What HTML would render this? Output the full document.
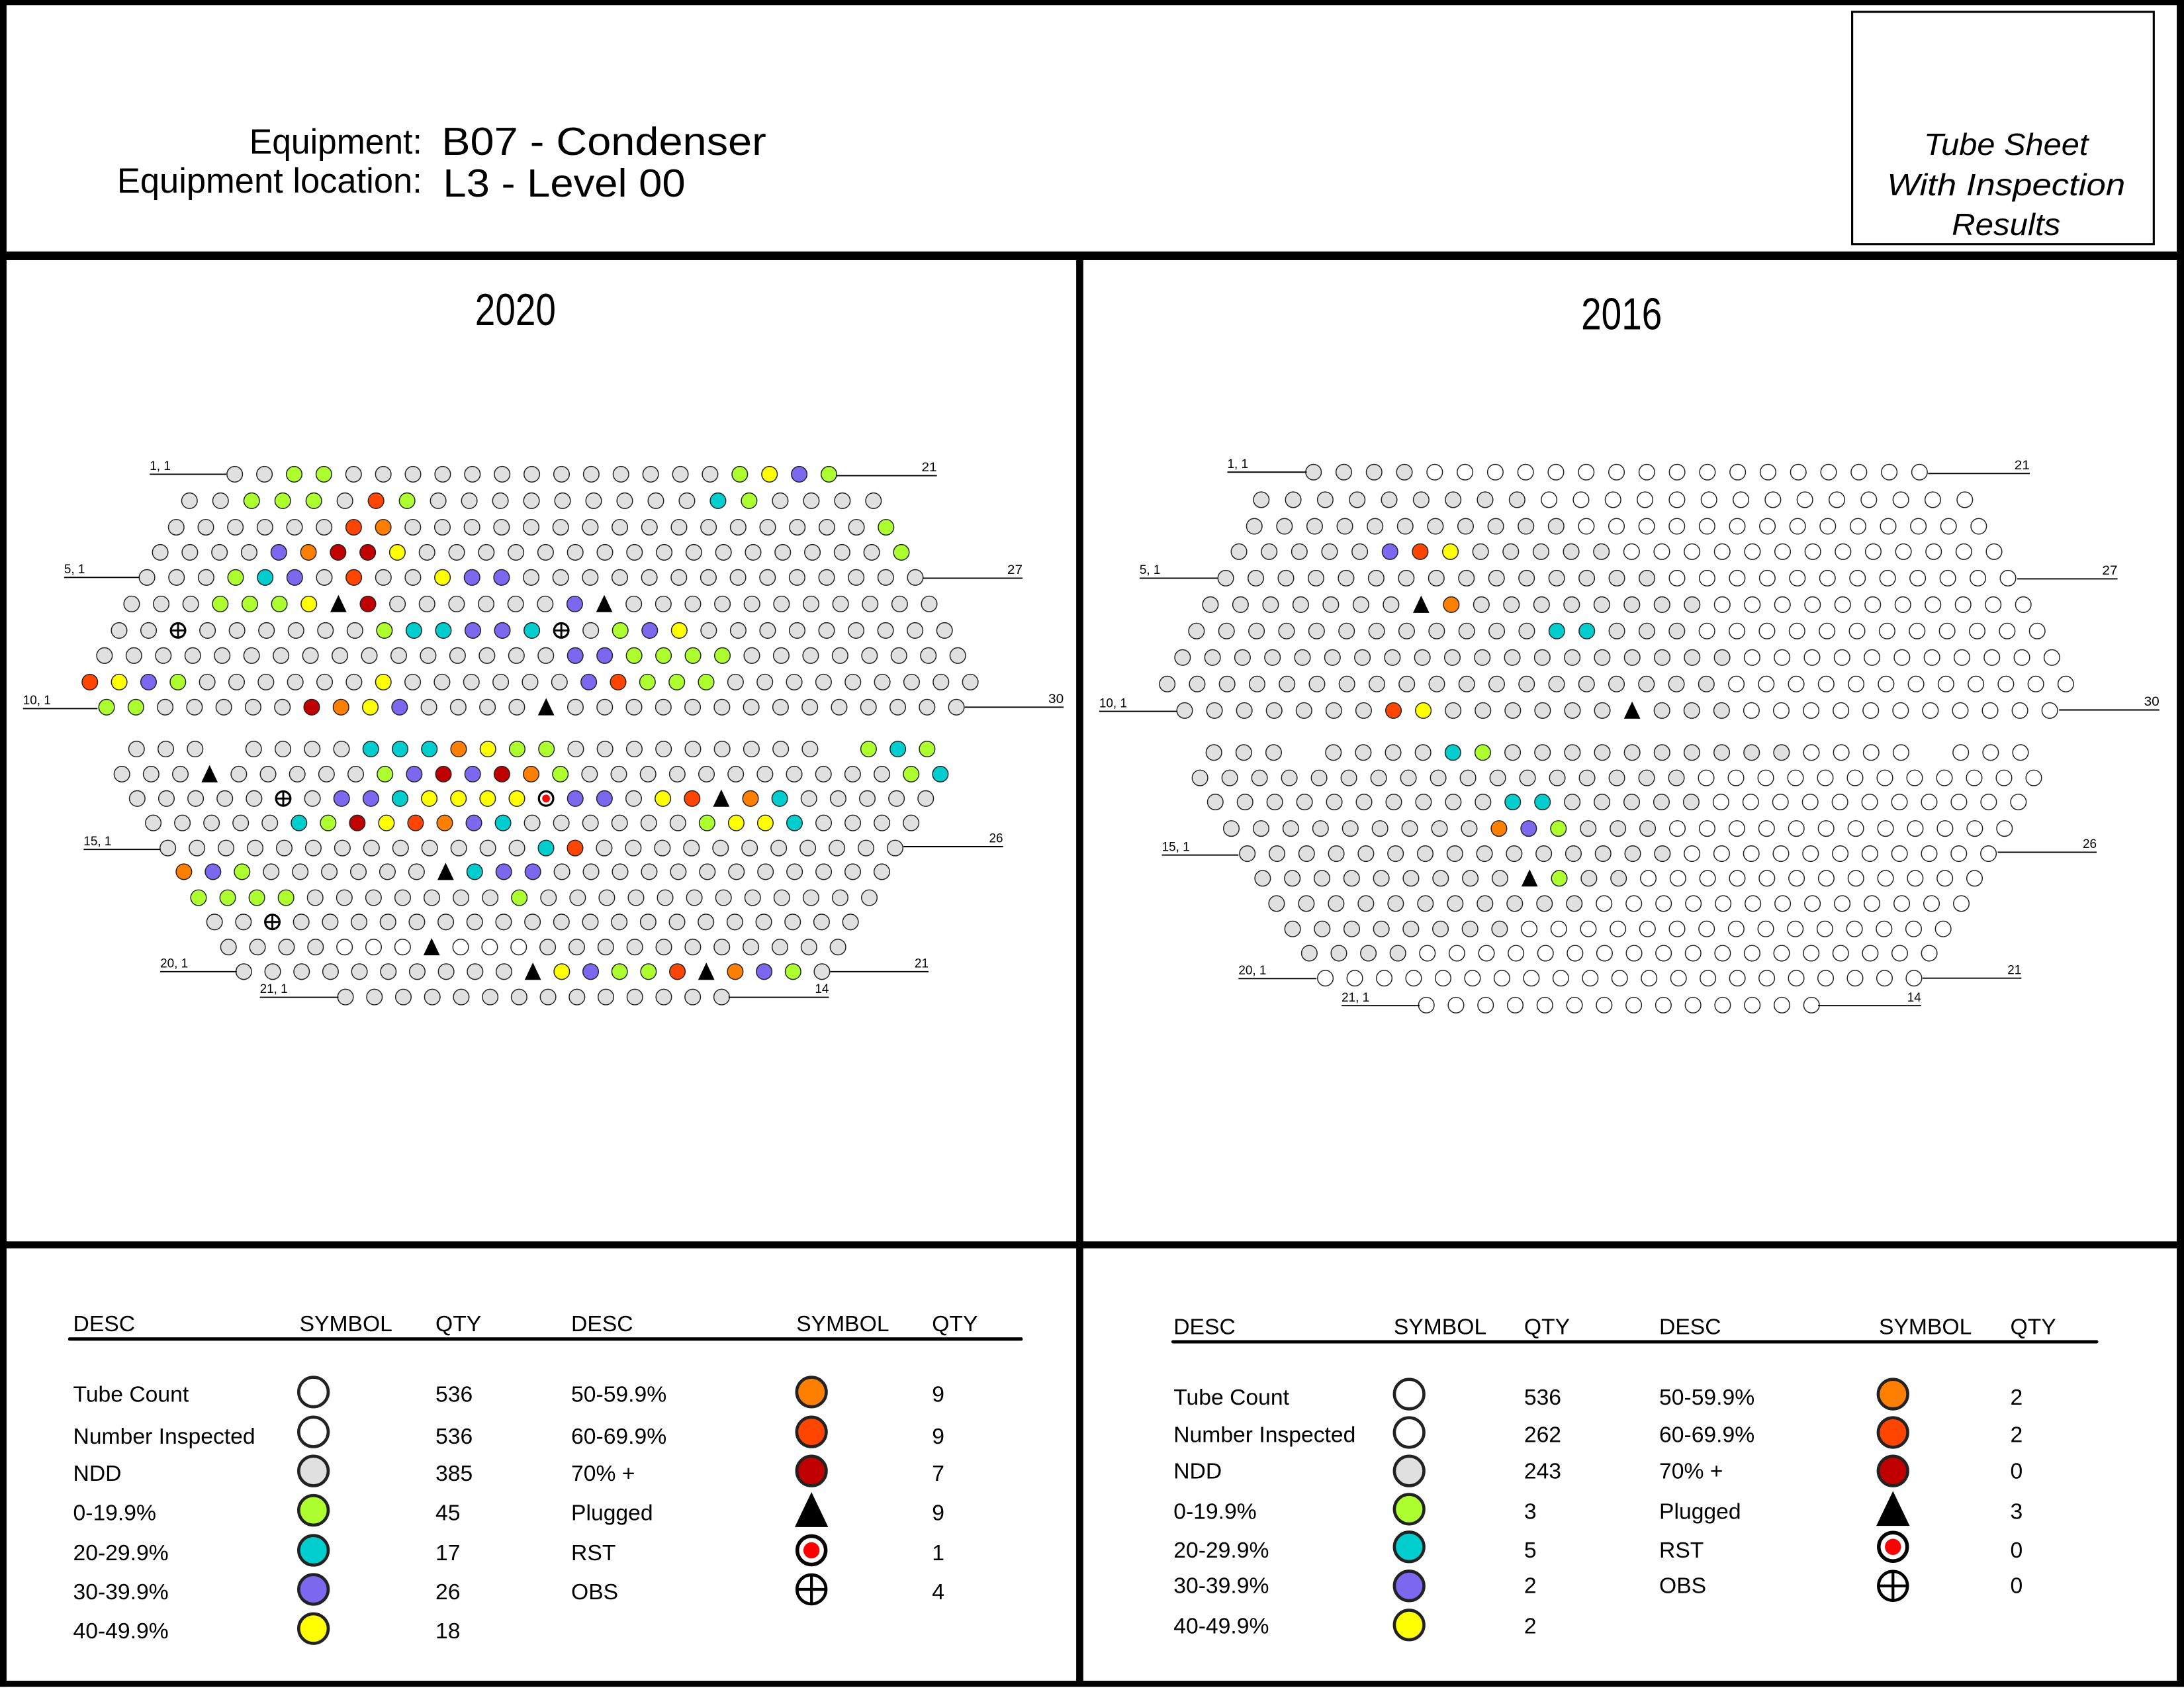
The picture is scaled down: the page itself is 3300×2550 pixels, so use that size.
<!DOCTYPE html>
<html><head><meta charset="utf-8">
<style>
html,body{margin:0;padding:0;background:#fff;}
svg{display:block;}
text{font-family:"Liberation Sans",sans-serif;}
</style></head>
<body>
<svg id="s" width="3300" height="2550" viewBox="0 0 1567.7 1210.2" preserveAspectRatio="none">
<rect x="0" y="0" width="1567.7" height="1210.2" fill="#fff"/>
<rect x="0" y="0" width="1567.7" height="3.8" fill="#000"/>
<rect x="0" y="0" width="4.7" height="1209.3" fill="#000"/>
<rect x="1562.5" y="0" width="5.2" height="1209.3" fill="#000"/>
<rect x="0" y="1205" width="1567.7" height="4.3" fill="#000"/>
<rect x="0" y="180.3" width="1567.7" height="6.2" fill="#000"/>
<rect x="772.5" y="184" width="5.1" height="1023" fill="#000"/>
<rect x="0" y="890" width="1567.7" height="5" fill="#000"/>
<rect x="1329.5" y="8.5" width="216.5" height="166.5" fill="none" stroke="#000" stroke-width="1.5"/>
<text x="1440" y="111" font-size="22" font-style="italic" text-anchor="middle" textLength="118" lengthAdjust="spacingAndGlyphs">Tube Sheet</text>
<text x="1440" y="140" font-size="22" font-style="italic" text-anchor="middle" textLength="171" lengthAdjust="spacingAndGlyphs">With Inspection</text>
<text x="1440" y="168.5" font-size="22" font-style="italic" text-anchor="middle" textLength="78" lengthAdjust="spacingAndGlyphs">Results</text>
<text x="303" y="110" font-size="25" text-anchor="end" textLength="124" lengthAdjust="spacingAndGlyphs">Equipment:</text>
<text x="303" y="138" font-size="25" text-anchor="end" textLength="219" lengthAdjust="spacingAndGlyphs">Equipment location:</text>
<text x="317" y="111" font-size="28" textLength="233" lengthAdjust="spacingAndGlyphs">B07 - Condenser</text>
<text x="318" y="141" font-size="28" textLength="174" lengthAdjust="spacingAndGlyphs">L3 - Level 00</text>
<text x="341" y="233" font-size="32" textLength="58" lengthAdjust="spacingAndGlyphs">2020</text>
<text x="1135" y="236" font-size="32" textLength="58" lengthAdjust="spacingAndGlyphs">2016</text>
<g id="g"></g>
</svg>
<script>
var out=[];
var col={'.':'#e0e0e0','w':'#ffffff','g':'#adff2f','c':'#00cdcd','p':'#7b68ee','y':'#ffff00','o':'#ff8000','r':'#ff4500','d':'#c00000'};
function rep(c,n){return new Array(n+1).join(c);}
function sym(c,x,y,r,sw){
  if(c===' ')return;
  if(col[c]){out.push('<circle cx="'+x+'" cy="'+y+'" r="'+r+'" fill="'+col[c]+'" stroke="#222" stroke-width="'+sw+'"/>');return;}
  if(c==='t'){var h=r*1.05;out.push('<polygon points="'+(x-h)+','+(y+h)+' '+x+','+(y-h*1.1)+' '+(x+h)+','+(y+h)+'" fill="#000"/>');return;}
  if(c==='x'){out.push('<circle cx="'+x+'" cy="'+y+'" r="'+(r*0.92)+'" fill="#fff" stroke="#000" stroke-width="'+(sw*2.2)+'"/>');
    out.push('<line x1="'+(x-r*0.92)+'" y1="'+y+'" x2="'+(x+r*0.92)+'" y2="'+y+'" stroke="#000" stroke-width="'+(sw*2)+'"/>');
    out.push('<line x1="'+x+'" y1="'+(y-r*0.92)+'" x2="'+x+'" y2="'+(y+r*0.92)+'" stroke="#000" stroke-width="'+(sw*2)+'"/>');return;}
  if(c==='s'){out.push('<circle cx="'+x+'" cy="'+y+'" r="'+(r*0.92)+'" fill="#fff" stroke="#000" stroke-width="'+(sw*2.2)+'"/>');
    out.push('<circle cx="'+x+'" cy="'+y+'" r="'+(r*0.5)+'" fill="#ff0000"/>');return;}
}
function row(a,b,y,s){var n=s.length,sp=(b-a)/(n-1);for(var i=0;i<n;i++)sym(s[i],a+i*sp,y,5.6,0.7);}
function lab(x1,x2,y,t,side,tl){
  out.push('<line x1="'+x1+'" y1="'+y+'" x2="'+x2+'" y2="'+y+'" stroke="#000" stroke-width="0.9"/>');
  if(side==='l')out.push('<text x="'+x1+'" y="'+(y-3)+'" font-size="9" textLength="'+tl+'" lengthAdjust="spacingAndGlyphs">'+t+'</text>');
  else out.push('<text x="'+x2+'" y="'+(y-3)+'" font-size="9" text-anchor="end" textLength="'+tl+'" lengthAdjust="spacingAndGlyphs">'+t+'</text>');
}
var L=[
[168.5,595,340,"..gg.............gypg"],
[136,627,359,"..ggg.rg.........cg...."],
[126.5,636,378,"......ro................g"],
[115,647,396,"....poddy................g"],
[105.5,657,414,"...gcp.r..ypp.............."],
[94.5,667,433,"...gggytd......pt..........."],
[85.5,678,452,"..x......gccppcx.gpy........."],
[75,687.5,470,"................ppgggg........"],
[64.5,696.5,489,"rypg......y......prggg........."],
[76.5,686.5,507,"gg.....doyp....t.............."],
[98,665.5,537,"... ....cccoygg......... gcg"],
[87.5,675,555,"...t.....gpdpdog...........gc"],
[98.5,664.5,572.5,".....x.ppcyyyyspp.yrtoc....."],
[110,654,590,".....cgdyropc......gyyc...."],
[120.5,642.5,608,".............cr..........."],
[132,633,625,"opg......tcpp............"],
[142.5,624,643.6,"gggg.......g............"],
[154,610.5,661,"..x...................."],
[164,601.5,679,"....wwwtwww..........."],
[175,590,696.6,"..........typggrtopg."],
[248,518,714.8,rep('.',14)]
];
L.forEach(function(r){row(r[0],r[1],r[2],r[3]);});
var RX=[[318,1188],[243,1253],[233,1273],[211,1295],[192,1315],[170,1337],[150,1357],[130,1378],[108,1398],[133,1375],
[175,1333],[155,1352],[177,1330],[200,1310],[223,1287],[245,1267],[265,1248],[288,1222],[312,1202],[335,1180],[480,1033]];
var RY=[338.5,358.3,377.3,395.5,414.5,433.5,452.4,471.4,490.4,509.4,539.5,557.7,575,594,612,629.7,647.8,666,683.4,701.3,720.6];
var RS=[
rep('.',4)+rep('w',17),
rep('.',9)+rep('w',14),
rep('.',11)+rep('w',14),
".....pry....."+rep('w',13),
rep('.',15)+rep('w',12),
".......to........"+rep('w',11),
"............cc..."+rep('w',12),
rep('.',19)+rep('w',11),
rep('.',19)+rep('w',12),
".......ry......t..."+rep('w',11),
"... ....cg.........."+"wwww www",
rep('.',17)+rep('w',12),
"..........cc....."+rep('w',11),
".........opg..."+rep('w',12),
rep('.',15)+rep('w',11),
".........tg.."+rep('w',12),
rep('.',11)+rep('w',13),
rep('.',8)+rep('w',15),
rep('.',4)+rep('w',18),
rep('w',21),
rep('w',14)
];
for(var i=0;i<21;i++){row(783.85+RX[i][0]/2,783.85+RX[i][1]/2,RY[i],RS[i]);}
// labels left
lab(107.5,162.5,340,"1, 1",'l',15);lab(600,672.5,341,"21",'r',11);
lab(46,100,414,"5, 1",'l',15);lab(662.5,734,414.5,"27",'r',11);
lab(16.5,70,508,"10, 1",'l',20);lab(692.5,763.5,507,"30",'r',11);
lab(60,115,609,"15, 1",'l',20);lab(648.5,720,607,"26",'r',10);
lab(115,170,696.6,"20, 1",'l',20);lab(596,666.5,696.6,"21",'r',10);
lab(186.5,243,715,"21, 1",'l',20);lab(523,595,715,"14",'r',10);
// labels right
lab(881,938,338.5,"1, 1",'l',15);lab(1384,1457,339.5,"21",'r',11);
lab(818,874,414.5,"5, 1",'l',15);lab(1448,1520,415,"27",'r',11);
lab(789,845,510,"10, 1",'l',20);lab(1478,1550,509,"30",'r',11);
lab(834,889,613,"15, 1",'l',20);lab(1434,1505,611,"26",'r',10);
lab(889,945,701.6,"20, 1",'l',20);lab(1380,1451,701.3,"21",'r',10);
lab(963,1019,721,"21, 1",'l',20);lab(1305,1379,721,"14",'r',10);
// legends
function legend(hx,ly,lx1,lx2,rowsY,circY,sx1,sx2,q1,q2){
  var H=[["DESC",hx[0]],["SYMBOL",hx[1]],["QTY",hx[2]],["DESC",hx[3]],["SYMBOL",hx[4]],["QTY",hx[5]]];
  H.forEach(function(h){out.push('<text x="'+h[1]+'" y="'+(ly-5.5)+'" font-size="16">'+h[0]+'</text>');});
  out.push('<line x1="'+lx1+'" y1="'+ly+'" x2="'+lx2+'" y2="'+ly+'" stroke="#000" stroke-width="2.4" stroke-linecap="round"/>');
  var d1=["Tube Count","Number Inspected","NDD","0-19.9%","20-29.9%","30-39.9%","40-49.9%"];
  var c1=['w','w','.','g','c','p','y'];
  var d2=["50-59.9%","60-69.9%","70% +","Plugged","RST","OBS"];
  var c2=['o','r','d','t','s','x'];
  for(var i=0;i<7;i++){
    out.push('<text x="'+hx[0]+'" y="'+rowsY[i]+'" font-size="16">'+d1[i]+'</text>');
    out.push('<text x="'+hx[2]+'" y="'+rowsY[i]+'" font-size="16">'+q1[i]+'</text>');
    sym(c1[i],sx1,circY[i],10.6,2.2);
    if(i<6){
      out.push('<text x="'+hx[3]+'" y="'+rowsY[i]+'" font-size="16">'+d2[i]+'</text>');
      out.push('<text x="'+hx[5]+'" y="'+rowsY[i]+'" font-size="16">'+q2[i]+'</text>');
      if(c2[i]==='t'){var x=sx2,y=circY[i];out.push('<polygon points="'+(x-12)+','+(y+12)+' '+x+','+(y-13)+' '+(x+12)+','+(y+12)+'" fill="#000"/>');}
      else if(c2[i]==='s'){out.push('<circle cx="'+sx2+'" cy="'+circY[i]+'" r="10.2" fill="#fff" stroke="#000" stroke-width="2.6"/><circle cx="'+sx2+'" cy="'+circY[i]+'" r="5.8" fill="#ff0000"/>');}
      else if(c2[i]==='x'){out.push('<circle cx="'+sx2+'" cy="'+circY[i]+'" r="10.4" fill="#fff" stroke="#000" stroke-width="2.2"/><line x1="'+(sx2-10.4)+'" y1="'+circY[i]+'" x2="'+(sx2+10.4)+'" y2="'+circY[i]+'" stroke="#000" stroke-width="2"/><line x1="'+sx2+'" y1="'+(circY[i]-10.4)+'" x2="'+sx2+'" y2="'+(circY[i]+10.4)+'" stroke="#000" stroke-width="2"/>');}
      else sym(c2[i],sx2,circY[i],10.6,2.2);
    }
  }
}
legend([52.5,215,312.6,410,571.6,669],960,50,733,
 [1005,1035,1061.7,1090,1118.5,1146.6,1174.7],[998,1026.6,1054.6,1082.8,1111.5,1139.5,1167.6],225,582.5,
 ["536","536","385","45","17","26","18"],["9","9","7","9","1","4"]);
legend([842.4,1000.4,1094,1191,1348.7,1443],962,842,1505,
 [1007,1034,1060,1089,1116.7,1142,1171],[999.5,1027,1054.6,1082,1109,1137,1165],1011.5,1358.8,
 ["536","262","243","3","5","2","2"],["2","2","0","3","0","0"]);
document.getElementById('g').innerHTML=out.join('');
</script>
</body></html>
